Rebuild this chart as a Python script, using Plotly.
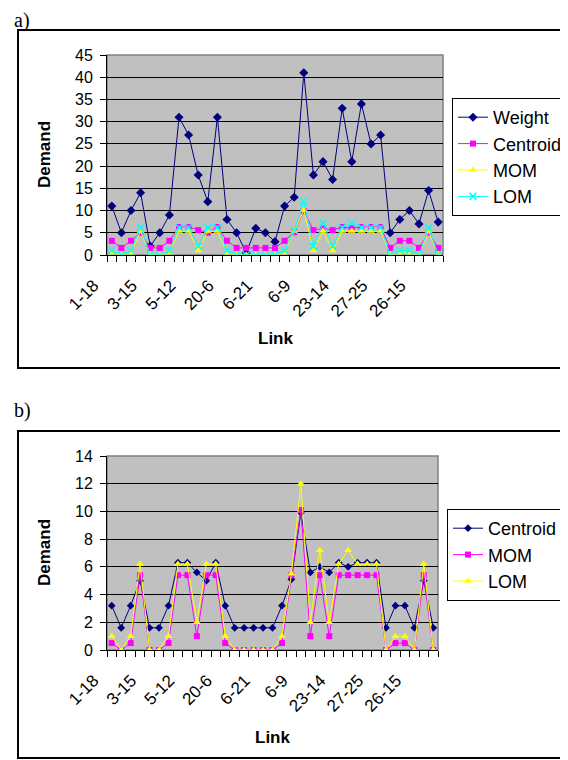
import plotly.graph_objects as go

# ---- data ----
tick_labels = ["1-18", "3-15", "5-12", "20-6", "6-21", "6-9", "23-14", "27-25", "26-15"]
n_links = 35
link_index = list(range(n_links))

weight = [11, 5, 10, 14, 2, 5, 9, 31, 27, 18, 12, 31, 8, 5, 0.5, 6, 5, 3, 11, 13,
          41, 18, 21, 17, 33, 21, 34, 25, 27, 5, 8, 10, 7, 14.5, 7.4]
centroid = [3.2, 1.6, 3.2, 5.0, 1.6, 1.6, 3.2, 6.3, 6.3, 5.6, 5.0, 6.3, 3.2, 1.6, 1.6, 1.6, 1.6, 1.6,
            3.2, 5.1, 9.9, 5.6, 6.0, 5.6, 6.3, 6.0, 6.3, 6.3, 6.3, 1.6, 3.2, 3.2, 1.6, 5.0, 1.6]
mom = [0.5, 0, 0.5, 5.4, 0, 0, 0.5, 5.4, 5.4, 1.0, 5.4, 5.4, 0.5, 0, 0, 0, 0, 0,
       0.5, 5.4, 10.1, 1.0, 5.4, 1.0, 5.4, 5.4, 5.4, 5.4, 5.4, 0, 0.5, 0.5, 0, 5.4, 0]
lom = [1.0, 0, 1.0, 6.2, 0, 0, 1.0, 6.2, 6.2, 2.0, 6.2, 6.2, 1.0, 0, 0, 0, 0, 0,
       1.0, 5.5, 12.0, 2.0, 7.2, 2.0, 6.2, 7.2, 6.2, 6.2, 6.2, 0, 1.0, 1.0, 0, 6.2, 0]

# the page body has an 8px margin, so the figure is sized/offset to fit the 568x760 window
OFF = 8
W, H = 568 - OFF, 760 - OFF
FONT = "Liberation Sans, Arial, sans-serif"
NAVY, MAG, YEL, CYAN = "#000080", "#FF00FF", "#FFFF00", "#00FFFF"


def px(x):
    return (x - OFF) / W


def py(y):
    return 1 - (y - OFF) / H


fig = go.Figure()


def add(x, y, name, color, symbol, size, xa, ya, legend, lw=1):
    mk = dict(symbol=symbol, size=size, color=color)
    if symbol.startswith("x-thin"):
        mk["line"] = dict(color=color, width=1.5)
    fig.add_trace(go.Scatter(x=x, y=y, name=name, mode="lines+markers",
                             line=dict(color=color, width=lw), marker=mk,
                             xaxis=xa, yaxis=ya, legend=legend))


# chart a
add(link_index, weight, "Weight", NAVY, "diamond", 7, "x", "y", "legend")
add(link_index, centroid, "Centroid", MAG, "square", 6, "x", "y", "legend")
add(link_index, mom, "MOM", YEL, "triangle-up", 7, "x", "y", "legend")
add(link_index, lom, "LOM", CYAN, "x-thin-open", 7, "x", "y", "legend")
# chart b
add(link_index, centroid, "Centroid", NAVY, "diamond", 6, "x2", "y2", "legend2")
add(link_index, mom, "MOM", MAG, "square", 6, "x2", "y2", "legend2")
add(link_index, lom, "LOM", YEL, "triangle-up", 7, "x2", "y2", "legend2")

tickvals = [i * 4 for i in range(len(tick_labels))]

xcommon = dict(range=[-0.5, n_links - 0.5], tickmode="array", tickvals=tickvals, ticktext=tick_labels,
               tickangle=-45, ticks="", showline=True, linecolor="black", linewidth=1,
               showgrid=False, zeroline=False, automargin=False,
               tickfont=dict(family=FONT, size=17, color="black"),
               minor=dict(tickmode="linear", tick0=-0.5, dtick=1, ticks="outside", ticklen=6,
                          tickcolor="black", tickwidth=1, showgrid=False),
               ticklabelstandoff=13, ticklabelshift=-18)
ycommon = dict(showline=True, linecolor="black", linewidth=1, ticks="outside", ticklen=6,
               tickcolor="black", showgrid=True, gridcolor="black", gridwidth=1, zeroline=False,
               automargin=False,
               tickfont=dict(family=FONT, size=16, color="black"), ticklabelstandoff=4)

fig.update_layout(
    template="none",
    width=W, height=H, margin=dict(l=0, r=0, t=0, b=0, autoexpand=False),
    paper_bgcolor="white", plot_bgcolor="#C0C0C0",
    xaxis=dict(domain=[px(107), px(443)], anchor="y", **xcommon),
    yaxis=dict(domain=[py(255), py(55)], anchor="x", range=[0, 45], dtick=5, **ycommon),
    xaxis2=dict(domain=[px(107), px(438)], anchor="y2", **xcommon),
    yaxis2=dict(domain=[py(650), py(456)], anchor="x2", range=[0, 14], dtick=2, **ycommon),
    legend=dict(x=px(452), y=py(98), xanchor="left", yanchor="top", bgcolor="white",
                bordercolor="black", borderwidth=1, font=dict(family=FONT, size=18, color="black"),
                itemwidth=30),
    legend2=dict(x=px(447), y=py(509), xanchor="left", yanchor="top", bgcolor="white",
                 bordercolor="black", borderwidth=1, font=dict(family=FONT, size=18, color="black"),
                 itemwidth=30),
    showlegend=True,
)

shapes = []
for xr, yr in (("x domain", "y domain"), ("x2 domain", "y2 domain")):
    shapes.append(dict(type="rect", xref=xr, yref=yr, x0=0, x1=1, y0=0, y1=1,
                       line=dict(color="#808080", width=1.5), layer="below"))
for (x0, y0, x1, y1) in ((18, 30, 565, 368), (18, 431, 565, 758)):
    shapes.append(dict(type="rect", xref="paper", yref="paper", x0=px(x0), x1=px(x1),
                       y0=py(y1), y1=py(y0), line=dict(color="black", width=2)))
fig.update_layout(shapes=shapes)

ann = []
for txt, y in (("a)", 8), ("b)", 398)):
    ann.append(dict(text=txt, xref="paper", yref="paper", x=px(13), y=py(y), xanchor="left",
                    yanchor="top", showarrow=False, borderpad=0,
                    font=dict(family="Liberation Serif, Times New Roman, serif", size=20, color="black")))
for y in ((55 + 255) / 2, (456 + 650) / 2):
    ann.append(dict(text="<b>Demand</b>", xref="paper", yref="paper", x=px(44), y=py(y),
                    xanchor="center", yanchor="middle", textangle=-90, showarrow=False,
                    font=dict(family=FONT, size=17, color="black")))
for x, y in (((107 + 443) / 2, 338), ((107 + 438) / 2, 737)):
    ann.append(dict(text="<b>Link</b>", xref="paper", yref="paper", x=px(x), y=py(y),
                    xanchor="center", yanchor="middle", showarrow=False,
                    font=dict(family=FONT, size=17, color="black")))
fig.update_layout(annotations=ann)

fig.write_html("out.html")
